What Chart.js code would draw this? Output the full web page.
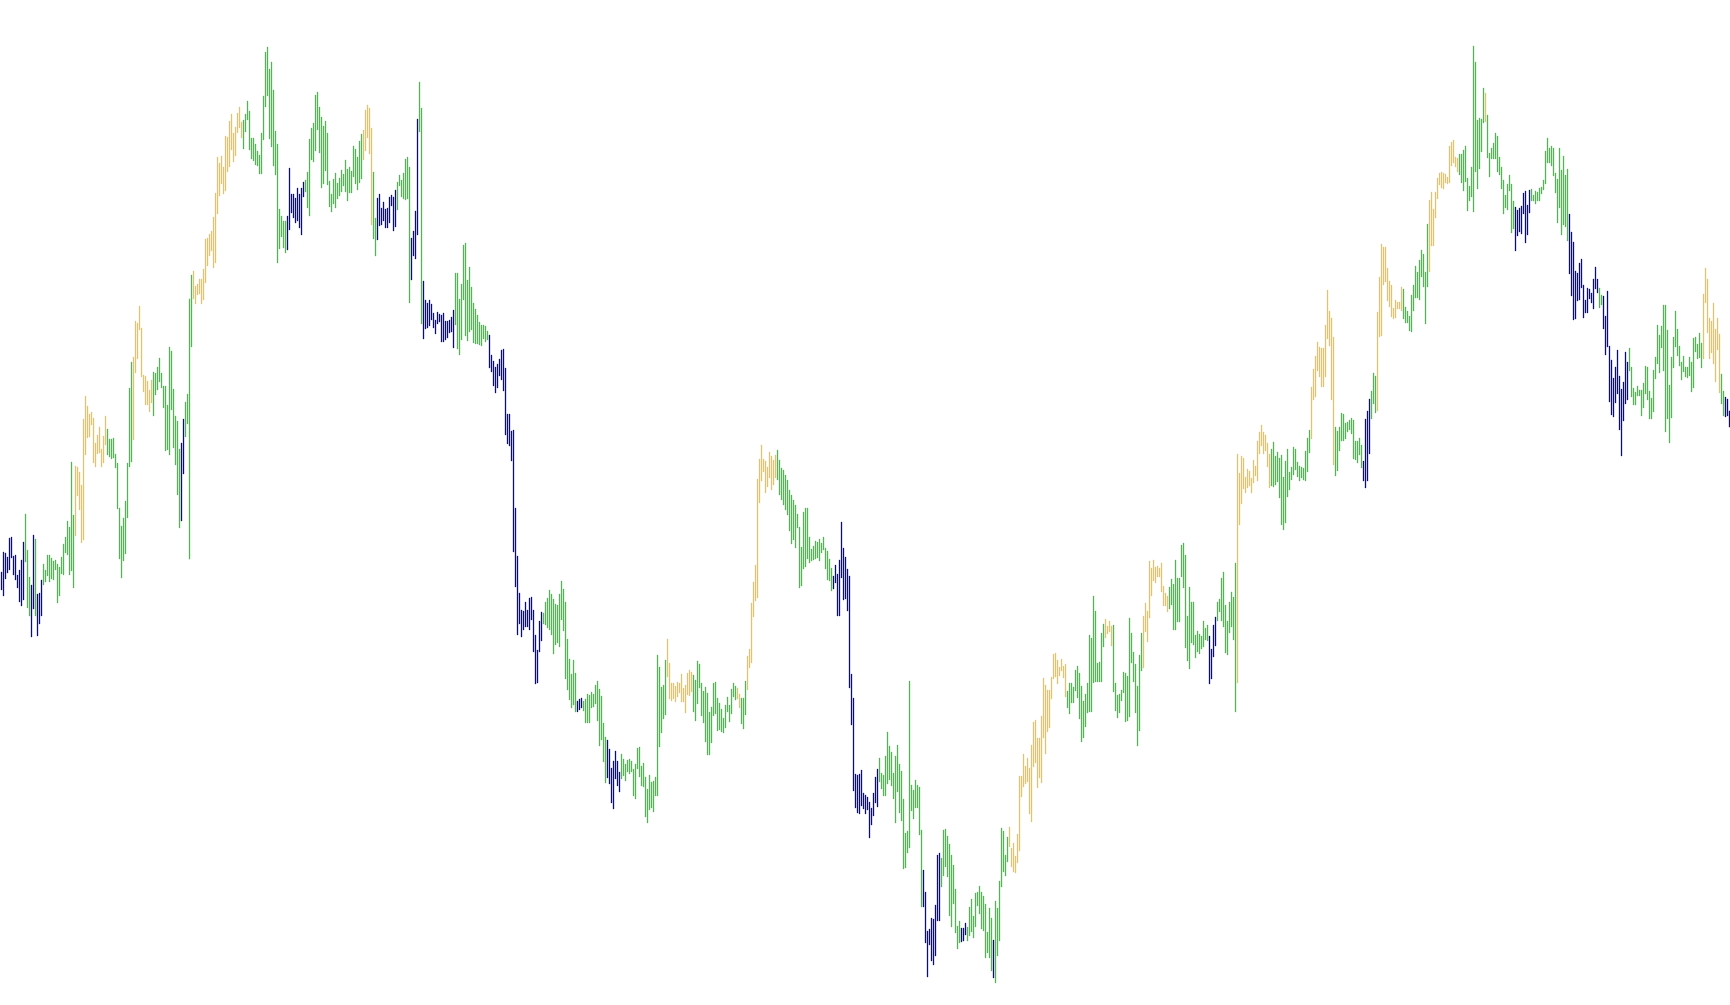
<!DOCTYPE html>
<html>
<head>
<meta charset="utf-8">
<title>bars</title>
<script src="https://cdn.jsdelivr.net/npm/chart.js@4.4.1/dist/chart.umd.min.js"></script>
<style>
  html, body { margin: 0; padding: 0; background: #ffffff; overflow: hidden; }
  canvas { display: block; }
</style>
</head>
<body>
<canvas id="myChart" width="1730" height="1005"></canvas>
<script>
'use strict';

// bar highs, one per bar, left to right
let highs = [
  428,448,447,443,462,463,444,445,425,430,440,458, 486,450,423,415,465,461,406,407,420,436,430,445,
  445,442,439,440,436,433,443,456,463,479,473,538, 485,534,533,528,515,581,604,594,586,588,582,557,
  565,573,551,564,584,571,561,561,562,546,537,492, 474,482,499,537,612,638,643,679,677,694,672,625,
  624,619,610,620,628,627,633,642,627,614,614,595, 653,649,611,584,579,551,557,581,598,606,701,725,
  729,714,716,721,721,731,761,762,766,769,783,807, 843,837,844,833,864,863,879,886,867,873,887,893,
  878,880,886,899,889,862,862,856,849,845,867,904, 948,953,931,938,910,869,856,791,784,779,779,784,
  832,806,806,802,812,806,812,818,820,828,861,872, 877,905,908,893,883,874,879,867,819,806,821,827,
  817,822,830,826,840,831,833,829,854,851,843,859, 866,870,890,895,892,872,828,782,802,806,792,798,
  791,792,803,805,803,810,818,825,820,827,841,843, 833,762,769,789,881,918,892,719,700,697,700,696,
  687,680,688,686,685,687,679,679,680,683,690,727, 727,701,716,755,757,720,733,713,697,691,685,678,
  675,675,674,669,665,645,639,633,636,641,650,651, 632,586,586,569,570,492,444,407,390,389,398,390,
  402,403,390,365,350,379,388,387,398,402,410,406, 401,396,395,406,419,411,398,361,341,326,340,327,
  299,301,302,299,301,306,305,308,306,315,319,311, 304,277,263,260,251,232,239,249,239,228,246,241,
  236,240,241,239,231,236,252,253,234,237,223,211, 225,218,219,223,345,333,313,315,340,361,337,317,
  317,314,318,317,326,312,315,327,330,328,325,320, 339,336,317,309,313,307,288,293,317,318,302,297,
  291,282,295,303,295,311,317,314,312,306,302,302, 319,344,351,397,418,435,521,541,555,541,539,533,
  548,544,540,545,550,540,532,530,525,520,510,505, 500,495,486,473,453,488,492,492,463,451,454,459,
  458,461,457,463,452,449,441,432,424,435,426,440, 478,452,443,431,424,326,302,226,225,226,230,207,
  205,203,198,192,207,223,231,242,227,225,244,268, 254,248,227,244,255,236,229,201,167,169,319,215,
  210,220,215,213,170,130,108,69,71,82,81,95, 145,147,142,170,171,164,156,145,135,111,74,79,
  72,72,77,73,93,101,84,107,108,114,108,104, 96,68,92,82,60,99,92,119,172,169,145,163,
  173,152,157,144,166,224,224,246,234,242,232,255, 278,280,262,262,284,322,315,310,310,323,346,347,
  340,333,341,334,336,309,317,317,313,330,334,327, 314,299,306,317,365,362,404,389,337,338,367,376,
  381,374,379,374,375,317,305,306,310,328,327,324, 382,367,348,336,314,345,367,384,397,389,439,432,
  440,433,434,432,437,414,407,404,413,421,416,440, 422,422,455,457,445,384,413,398,398,365,369,366,
  364,379,372,375,364,351,375,383,398,401,422,428, 395,379,398,408,403,437,546,527,544,542,523,531,
  529,522,540,534,559,568,575,568,565,557,546,551, 558,544,548,542,545,523,539,551,528,533,553,551,
  538,534,533,532,549,562,570,613,631,644,658,653, 652,652,675,710,689,682,663,573,569,573,587,586,
  577,578,580,582,580,559,559,562,555,539,581,589, 601,609,627,624,688,723,756,753,753,732,719,715,
  692,700,698,698,713,711,693,689,684,705,715,734, 728,740,750,746,728,776,800,808,791,808,822,827,
  828,827,826,823,854,858,860,843,842,846,846,850, 854,822,814,833,954,938,880,882,881,912,907,885,
  847,852,857,867,864,843,833,820,805,816,825,816, 799,793,790,792,794,807,809,795,810,811,805,809,
  808,812,813,820,849,862,852,854,852,827,821,852, 830,844,825,831,786,768,758,729,727,737,741,715,
  700,712,711,707,721,733,721,712,705,704,684,709, 654,640,622,633,650,624,611,618,648,638,652,633,
  612,608,614,610,610,617,634,633,609,602,630,643, 675,665,674,695,695,670,615,643,663,689,671,654,
  638,644,633,633,643,638,662,663,656,667,657,706, 732,721,682,679,697,671,682,666,626,609,603,601,589
];

// bar lows, same order
let lows = [
  410,404,421,427,430,442,425,420,412,398,394,400, 438,392,384,363,391,384,364,376,384,415,418,424,
  418,421,420,430,397,404,426,425,447,445,425,429, 412,464,504,490,457,460,545,562,563,575,537,533,
  546,547,533,537,555,545,543,541,542,532,491,441, 422,439,446,482,533,538,560,627,641,670,623,608,
  595,595,588,597,584,605,610,618,612,592,549,550, 545,590,552,535,505,472,479,526,563,576,441,653,
  701,696,705,706,696,700,717,734,744,749,732,737, 786,804,816,806,809,828,833,850,838,844,867,872,
  862,851,868,880,850,841,839,835,834,826,826,860, 893,904,861,853,834,825,737,751,763,752,747,750,
  770,787,782,777,779,772,765,803,808,792,784,840, 838,849,870,847,812,816,829,815,793,788,796,792,
  801,804,808,814,808,799,807,807,823,816,810,817, 821,840,849,862,846,775,761,744,760,774,775,779,
  772,772,777,794,769,773,790,814,803,801,800,801, 697,720,744,741,765,868,676,661,671,672,674,680,
  672,666,676,678,658,658,660,662,667,668,652,675, 651,645,660,700,664,659,668,670,657,656,656,655,
  654,661,658,660,632,628,614,607,612,624,620,609, 565,556,554,539,448,413,365,376,363,370,373,373,
  370,380,348,316,317,348,359,376,375,372,370,365, 346,355,357,353,380,369,321,310,300,292,295,288,
  288,290,292,289,277,277,277,292,293,296,279,254, 260,238,217,222,216,197,191,221,214,208,221,224,
  219,228,226,228,204,201,231,223,214,213,183,177, 190,192,188,204,204,253,267,281,285,323,301,299,
  301,298,303,307,298,298,287,305,304,308,288,279, 296,312,284,277,258,245,245,257,284,286,269,270,
  268,267,272,288,278,286,303,300,301,292,276,271, 285,310,332,337,383,399,402,497,519,528,507,513,
  522,510,515,522,520,505,500,495,490,485,469,456, 460,452,472,412,414,431,433,441,437,439,440,441,
  442,439,447,450,431,420,419,409,411,417,384,384, 422,400,401,389,312,275,209,192,187,186,194,191,
  186,190,162,175,184,197,193,218,211,204,204,216, 220,214,201,177,208,187,179,131,132,147,152,189,
  181,192,192,165,93,93,57,23,55,39,35,44, 79,79,113,124,133,123,84,73,96,67,51,57,
  58,59,65,59,64,68,62,73,94,86,71,69, 42,47,42,29,22,17,44,59,113,128,124,138,
  153,133,128,127,137,149,203,213,216,218,186,178, 233,237,212,222,217,262,246,268,272,301,321,323,
  316,324,329,322,303,292,286,297,297,309,302,281, 258,262,273,287,288,288,317,318,318,318,318,353,
  362,366,368,354,308,289,282,287,299,307,278,279, 283,337,318,287,254,269,329,332,368,358,382,404,
  419,417,423,423,408,394,394,388,391,395,370,370, 378,378,423,412,352,339,331,357,355,342,348,346,
  351,353,360,359,316,321,343,354,379,388,379,373, 347,345,367,373,360,288,317,475,496,511,507,512,
  514,507,517,524,519,546,554,546,549,533,512,514, 513,515,518,502,475,470,477,503,510,520,525,530,
  523,519,522,520,519,528,547,561,600,603,629,623, 613,613,623,661,654,600,535,524,529,549,559,559,
  561,568,570,566,541,540,537,545,532,519,512,519, 546,581,596,587,589,663,664,715,718,699,693,683,
  681,682,691,691,689,681,677,677,669,668,689,702, 702,700,723,713,676,713,728,754,754,782,801,815,
  812,811,817,816,817,834,837,833,828,825,817,809, 818,789,799,803,788,828,811,831,848,877,878,842,
  823,841,841,841,828,825,811,786,792,790,809,767, 771,749,764,768,766,786,757,765,787,799,799,796,
  799,799,806,810,816,837,837,834,824,807,777,792, 765,775,773,759,726,704,680,681,699,700,712,682,
  687,687,701,697,691,711,707,692,695,671,645,653, 598,585,583,597,606,570,544,579,596,600,629,603,
  595,595,604,604,584,592,606,600,581,581,588,621, 636,627,652,629,568,581,557,582,632,653,644,634,
  620,628,623,622,624,608,612,648,641,642,632,641, 697,667,641,647,636,618,650,607,596,584,583,584,573
];

// trend state of each run of bars: b = down, g = flat, y = up
let stateRuns = [
  ['b',12],['g',3],['b',2],['g',1],['b',3],['g',16],['y',16],['g',13],['y',10],['g',14],['b',2],['g',4],
  ['y',25],['g',22],['b',9],['g',29],['y',5],['g',2],['b',4],
  ['b',6],['g',7],['b',4],['g',2],['b',16],['g',17],['b',27],['g',17],
  ['b',3],['g',12],['b',7],['g',23],['y',13],['g',22],['y',2],['g',3],['y',11],
  ['y',4],['g',28],['b',23],['g',22],['b',9],['g',10],
  ['b',3],['g',13],['b',1],['g',7],['y',29],['g',19],['y',4],['g',15],['y',5],
  ['y',8],['g',20],['b',4],['g',10],['y',17],['g',20],['y',12],['g',5],
  ['g',9],['b',4],['g',3],['y',13],['g',13],['y',15],['g',13],['y',1],['g',14],['b',8],['g',3],
  ['g',16],['b',15],['g',2],['b',13],['g',37],['y',9],['g',2],['b',3]
];

let stateColors = { b: '#0000dc', g: '#14e014', y: '#fac814' };

// build per bar data for the floating bars
function buildBars() {
  let states = [];
  for (let i = 0; i < stateRuns.length; i++) {
    for (let j = 0; j < stateRuns[i][1]; j++) {
      states.push(stateRuns[i][0]);
    }
  }
  let labels = [];
  let ranges = [];
  let colors = [];
  for (let i = 0; i < highs.length; i++) {
    labels.push(i);
    ranges.push([lows[i], highs[i]]);
    colors.push(stateColors[states[i]] || stateColors.g);
  }
  return { labels: labels, ranges: ranges, colors: colors };
}

function renderChart() {
  let bars = buildBars();
  let chartObject = {
    type: 'bar',
    data: {
      labels: bars.labels,
      datasets: [{
        data: bars.ranges,
        backgroundColor: bars.colors,
        borderWidth: 0,
        barThickness: 1,
        inflateAmount: 0.15
      }]
    },
    options: {
      responsive: false,
      animation: false,
      events: [],
      layout: { padding: 0 },
      plugins: {
        legend: { display: false },
        tooltip: { enabled: false }
      },
      scales: {
        x: { type: 'linear', min: -0.75, max: bars.labels.length - 0.75, offset: false, display: false },
        y: { min: -5, max: 1000, display: false }
      }
    }
  };
  let ctx = document.getElementById('myChart').getContext('2d');
  new Chart(ctx, chartObject);
}

renderChart();
</script>
</body>
</html>
